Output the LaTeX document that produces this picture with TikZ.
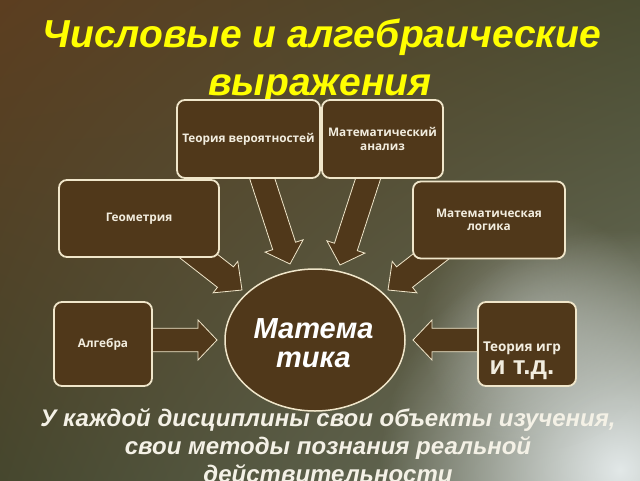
\documentclass[tikz,border=0pt]{standalone}
\usepackage{fontspec}
\setmainfont{Liberation Sans}
\newfontfamily\boxfont{Open Sans}
\usetikzlibrary{fadings,shadings,shapes.geometric}
\definecolor{boxfill}{HTML}{50381A}
\definecolor{boxline}{HTML}{F0E6CA}
\definecolor{boxtext}{HTML}{F2EDDF}
\definecolor{titlecol}{HTML}{FFFF00}
\definecolor{bodytext}{HTML}{F4F1E6}
\definecolor{bgUL}{HTML}{5C3E20}
\definecolor{bgUR}{HTML}{4A4C31}
\definecolor{bgLL}{HTML}{46472E}
\definecolor{bgLR}{HTML}{6E7462}
\definecolor{glowcol}{HTML}{E2E8E8}
\tikzfading[name=glowfade, inner color=transparent!0, outer color=transparent!100]
\newcommand\blockarrow[6]{%
  \begin{scope}[shift={(#1)},rotate=-#2]
    \filldraw[arrowsty] (0,0) -- (-#6,#5) -- (-#6,#4) -- (-#3,#4) -- (-#3,-#4) -- (-#6,-#4) -- (-#6,-#5) -- cycle;
  \end{scope}}
\begin{document}
\begin{tikzpicture}[x=1pt,y=-1pt,
  box/.style={draw=boxline, line width=1.8pt, fill=boxfill, rounded corners=8pt,
    text=boxtext, align=center, inner sep=2pt,
    font=\boxfont\bfseries\fontsize{11.8}{13.5}\selectfont},
  arrowsty/.style={draw=boxline, line width=0.8pt, fill=boxfill},
  title/.style={text=titlecol, anchor=base, inner sep=0pt,
    font=\bfseries\itshape\fontsize{39}{48}\selectfont},
  body/.style={text=bodytext, anchor=base, inner sep=0pt,
    font=\bfseries\itshape\fontsize{24}{28}\selectfont},
  core/.style={draw=boxline, line width=1.5pt, fill=boxfill, ellipse,
    minimum width=180pt, minimum height=142pt, inner sep=0pt},
  coretext/.style={text=white, anchor=base, inner sep=0pt,
    font=\bfseries\itshape\fontsize{29}{30}\selectfont}
]
\useasboundingbox (0,0) rectangle (640,480);
% background
\shade[upper left=bgUL, upper right=bgUR, lower left=bgLL, lower right=bgLR] (0,0) rectangle (640,480);
\begin{scope}
  \clip (0,0) rectangle (640,480);
  \fill[glowcol, path fading=glowfade] (620,470) circle (240);
  \fill[glowcol!70!bgLR, path fading=glowfade, opacity=0.5] (540,330) circle (120);
\end{scope}
% title
\node[title] (t1) at (322,47) {Числовые и алгебраические};
\node[title] (t2) at (320,95) {выражения};
% arrow tips
\coordinate (tAlg) at (217,340);
\coordinate (tGame) at (413,340);
\coordinate (tGeom) at (242,290);
\coordinate (tLog) at (388,290);
\coordinate (tProb) at (290,264);
\coordinate (tAnal) at (340,265);
\blockarrow{tAlg}{0}{80}{11.7}{20}{19}
\blockarrow{tGame}{180}{80}{11.7}{20}{19}
\blockarrow{tGeom}{38}{85}{13}{20}{21}
\blockarrow{tLog}{142}{85}{13}{20}{21}
\blockarrow{tProb}{72}{100}{12}{20}{19}
\blockarrow{tAnal}{108}{100}{12}{20}{19}
% boxes
\node[box, minimum width=143pt, minimum height=78pt] (prob) at (248.5,139) {Теория вероятностей};
\node[box, minimum width=121pt, minimum height=78pt] (anal) at (382.5,139) {Математический\\анализ};
\node[box, minimum width=160pt, minimum height=77pt] (geom) at (139,218.5) {Геометрия};
\node[box, minimum width=152pt, minimum height=77pt] (logic) at (489,220) {Математическая\\логика};
\node[box, minimum width=98pt, minimum height=84pt] (alg) at (103,344) {Алгебра};
\node[box, minimum width=98pt, minimum height=84pt] (game) at (527,344) {};
\node[box, draw=none, fill=none, anchor=base, font=\boxfont\bfseries\fontsize{13.5}{15}\selectfont] (gtxt1) at (522,351) {Теория игр};
\node[box, draw=none, fill=none, anchor=base, font=\bfseries\fontsize{26}{28}\selectfont] (gtxt2) at (522,374) {и т.д.};
% core
\node[core] (math) at (315,340) {};
\node[coretext] (m1) at (313.5,338) {Матема};
\node[coretext] (m2) at (313.5,367) {тика};
% body text
\begin{scope}
\clip (0,0) rectangle (640,480);
\node[body] (b1) at (328,426) {У каждой дисциплины свои объекты изучения,};
\node[body] (b2) at (328,454) {свои методы познания реальной};
\node[body] (b3) at (328,482) {действительности};
\end{scope}
\end{tikzpicture}
\end{document}
